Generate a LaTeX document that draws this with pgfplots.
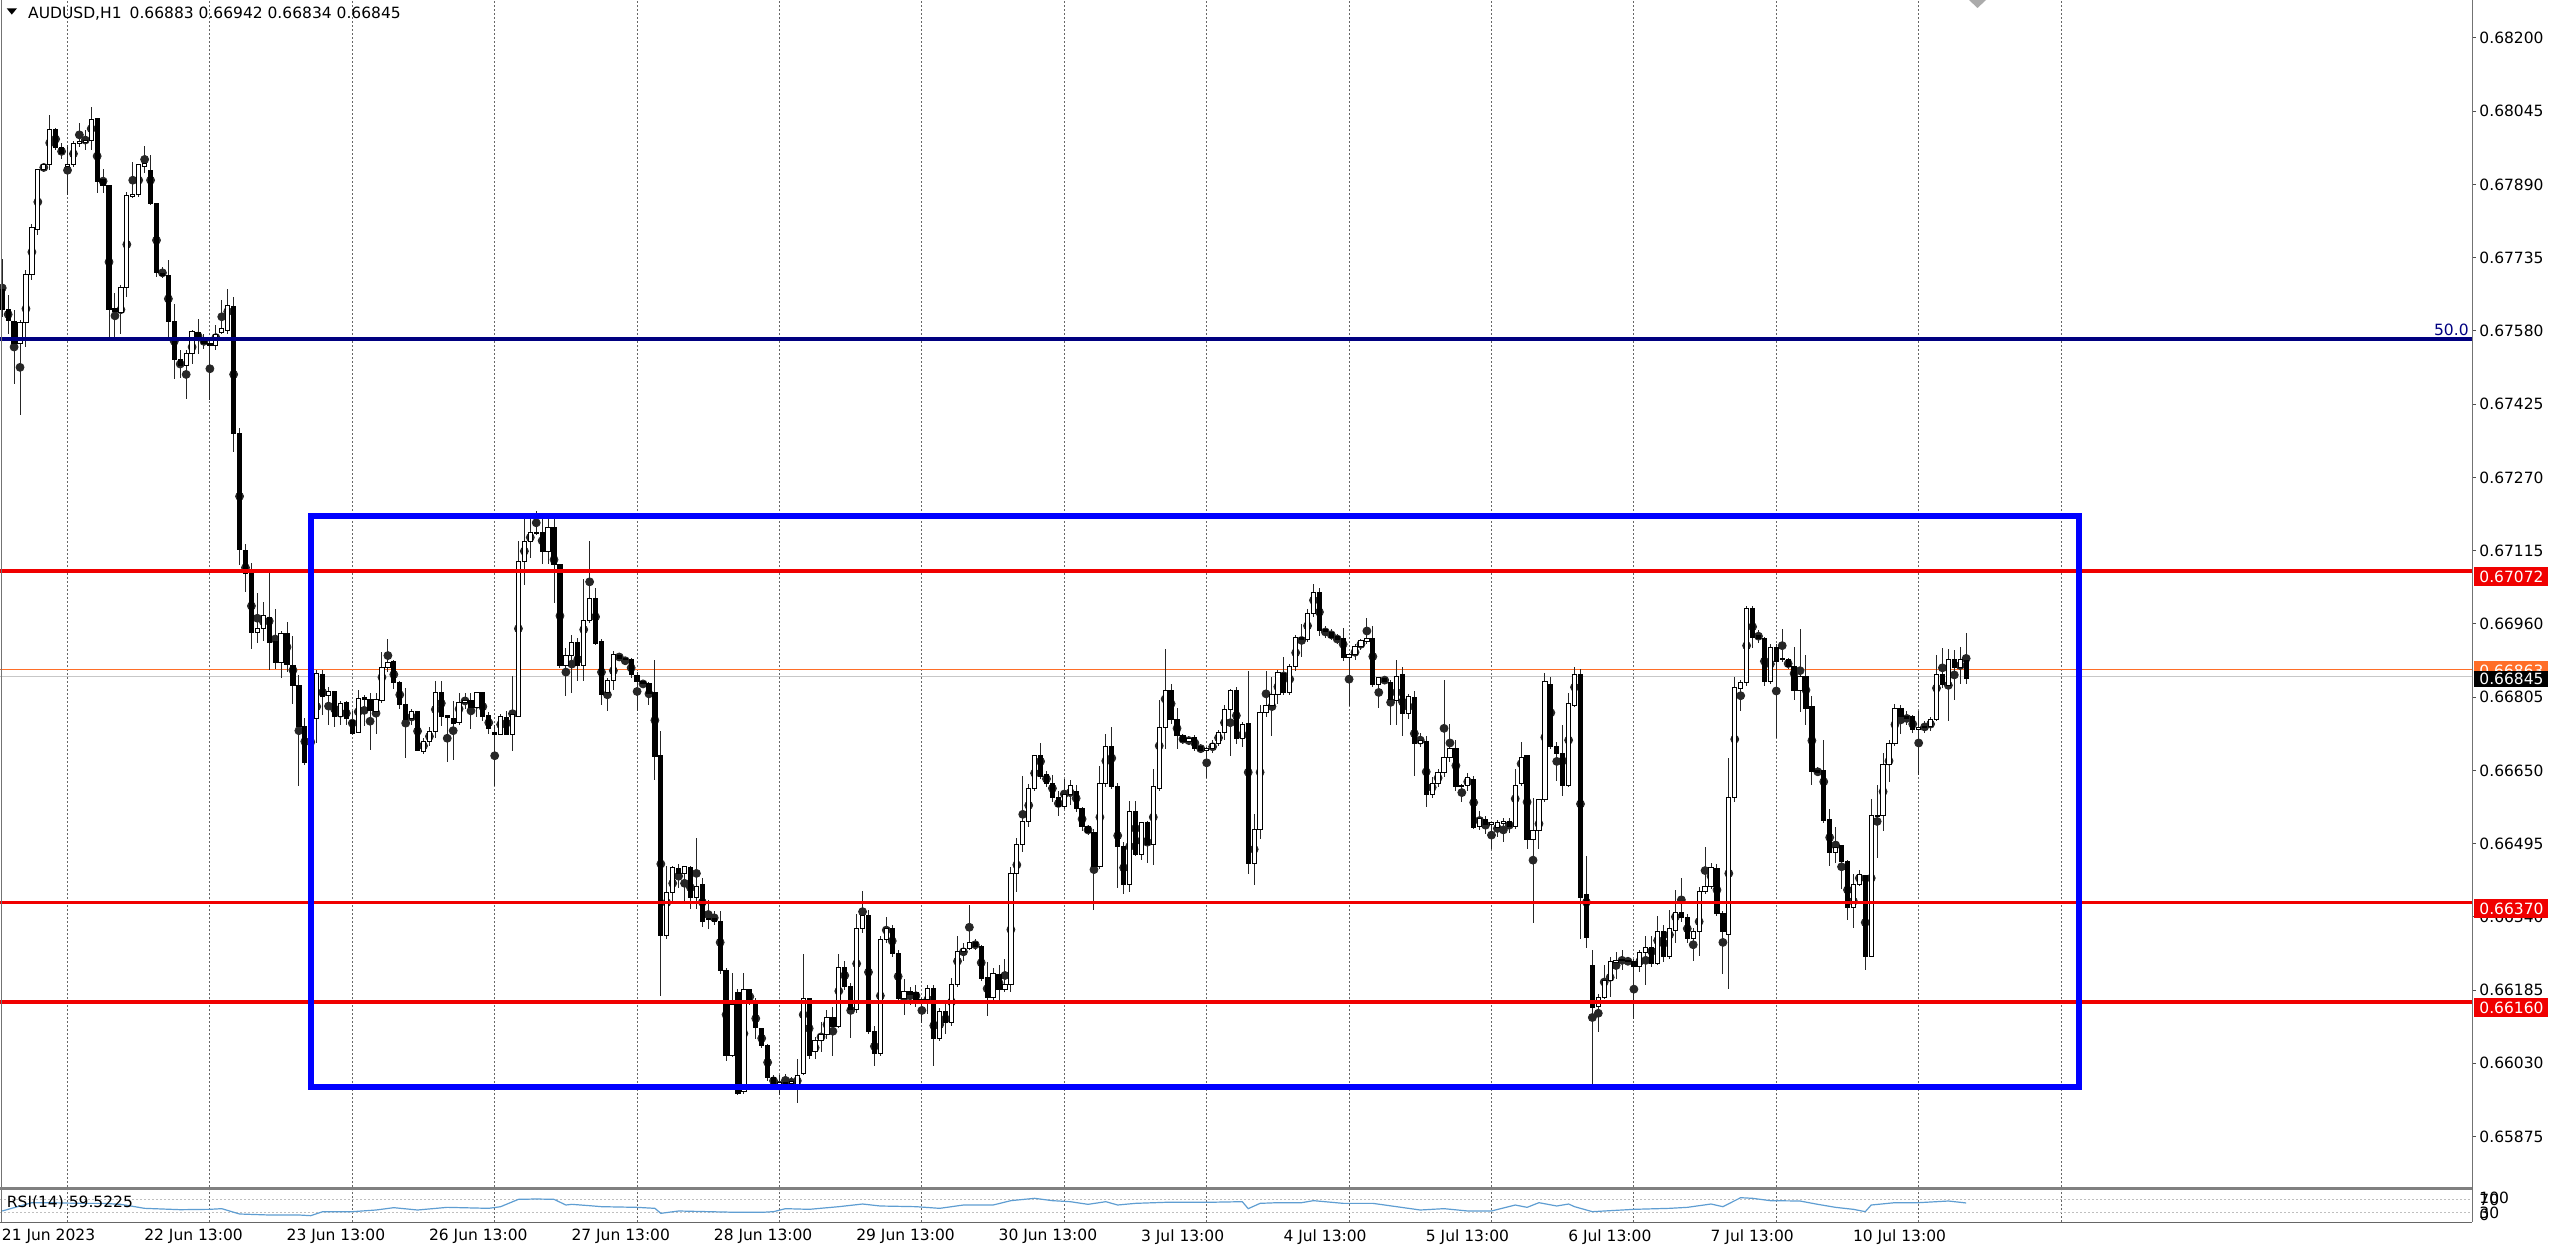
\documentclass[border=0pt]{standalone}
\usepackage{fontspec}
\setmainfont{DejaVu Sans}
\usepackage{pgfplots}
\pgfplotsset{compat=1.18}
\usepackage{pgfplotstable}

\definecolor{boxblue}{RGB}{0,0,255}
\definecolor{lvlred}{RGB}{240,0,0}
\definecolor{fibnavy}{RGB}{0,0,128}
\definecolor{askorange}{RGB}{255,110,40}
\definecolor{rsiblue}{RGB}{95,158,210}
\newcommand\mtfont{\fontsize{7.75pt}{9pt}\selectfont}

% AUDUSD H1 candles: bar number, open, high, low, close
\pgfplotstableread{
n o h l c
0 0.67667 0.67734 0.67611 0.67625
1 0.67625 0.67657 0.67575 0.67602
2 0.67600 0.67625 0.67470 0.67554
3 0.67554 0.67604 0.67403 0.67597
4 0.67597 0.67709 0.67547 0.67699
5 0.67699 0.67808 0.67688 0.67798
6 0.67794 0.67924 0.67783 0.67921
7 0.67921 0.67935 0.67917 0.67932
8 0.67932 0.68037 0.67921 0.68007
9 0.68007 0.68009 0.67963 0.67969
10 0.67969 0.67977 0.67943 0.67955
11 0.67928 0.67974 0.67868 0.67933
12 0.67932 0.67984 0.67928 0.67977
13 0.67976 0.68021 0.67970 0.67981
14 0.67979 0.68006 0.67963 0.67984
15 0.67984 0.68055 0.67963 0.68027
16 0.68029 0.68030 0.67873 0.67896
17 0.67901 0.67924 0.67872 0.67887
18 0.67887 0.67889 0.67565 0.67625
19 0.67628 0.67660 0.67565 0.67621
20 0.67618 0.67678 0.67575 0.67673
21 0.67673 0.67875 0.67653 0.67866
22 0.67865 0.67938 0.67861 0.67869
23 0.67869 0.67935 0.67865 0.67932
24 0.67928 0.67972 0.67914 0.67934
25 0.67920 0.67953 0.67847 0.67849
26 0.67849 0.67850 0.67695 0.67704
27 0.67701 0.67716 0.67692 0.67697
28 0.67698 0.67731 0.67568 0.67600
29 0.67600 0.67639 0.67480 0.67519
30 0.67519 0.67540 0.67480 0.67506
31 0.67506 0.67540 0.67438 0.67532
32 0.67532 0.67583 0.67512 0.67579
33 0.67577 0.67607 0.67533 0.67568
34 0.67567 0.67575 0.67544 0.67554
35 0.67554 0.67568 0.67434 0.67550
36 0.67550 0.67593 0.67540 0.67573
37 0.67577 0.67646 0.67575 0.67585
38 0.67582 0.67669 0.67575 0.67633
39 0.67632 0.67653 0.67324 0.67364
40 0.67364 0.67376 0.67086 0.67118
41 0.67116 0.67131 0.67029 0.67067
42 0.67067 0.67090 0.66909 0.66941
43 0.66941 0.67026 0.66920 0.66950
44 0.66950 0.67007 0.66923 0.66977
45 0.66973 0.67071 0.66863 0.66920
46 0.66923 0.66992 0.66867 0.66878
47 0.66878 0.66944 0.66846 0.66939
48 0.66939 0.66965 0.66859 0.66874
49 0.66872 0.66935 0.66791 0.66829
50 0.66829 0.66852 0.66618 0.66742
51 0.66742 0.66761 0.66663 0.66667
52 0.66667 0.66765 0.66655 0.66759
53 0.66759 0.66863 0.66707 0.66854
54 0.66853 0.66863 0.66768 0.66807
55 0.66808 0.66828 0.66746 0.66817
56 0.66817 0.66820 0.66742 0.66765
57 0.66765 0.66798 0.66746 0.66792
58 0.66794 0.66798 0.66746 0.66759
59 0.66755 0.66776 0.66725 0.66729
60 0.66731 0.66820 0.66729 0.66802
61 0.66804 0.66811 0.66746 0.66800
62 0.66800 0.66815 0.66694 0.66776
63 0.66774 0.66815 0.66729 0.66800
64 0.66798 0.66902 0.66794 0.66867
65 0.66867 0.66928 0.66859 0.66878
66 0.66880 0.66884 0.66824 0.66835
67 0.66835 0.66841 0.66781 0.66789
68 0.66789 0.66824 0.66677 0.66757
69 0.66759 0.66781 0.66746 0.66774
70 0.66774 0.66776 0.66690 0.66693
71 0.66690 0.66720 0.66686 0.66712
72 0.66712 0.66742 0.66703 0.66733
73 0.66732 0.66840 0.66720 0.66815
74 0.66815 0.66841 0.66746 0.66764
75 0.66766 0.66768 0.66668 0.66761
76 0.66759 0.66798 0.66673 0.66749
77 0.66751 0.66815 0.66746 0.66794
78 0.66794 0.66815 0.66781 0.66798
79 0.66798 0.66815 0.66738 0.66783
80 0.66783 0.66817 0.66764 0.66815
81 0.66814 0.66815 0.66755 0.66764
82 0.66766 0.66776 0.66729 0.66738
83 0.66731 0.66746 0.66617 0.66727
84 0.66727 0.66768 0.66725 0.66765
85 0.66762 0.66776 0.66725 0.66727
86 0.66727 0.66850 0.66690 0.66768
87 0.66765 0.67135 0.66764 0.67092
88 0.67092 0.67187 0.67044 0.67135
89 0.67135 0.67187 0.67100 0.67154
90 0.67154 0.67200 0.67148 0.67151
91 0.67154 0.67187 0.67087 0.67113
92 0.67113 0.67187 0.67087 0.67163
93 0.67163 0.67187 0.67005 0.67085
94 0.67085 0.67087 0.66867 0.66872
95 0.66872 0.66910 0.66807 0.66893
96 0.66893 0.66936 0.66815 0.66921
97 0.66921 0.66932 0.66841 0.66872
98 0.66872 0.67057 0.66841 0.66967
99 0.66967 0.67137 0.66962 0.67014
100 0.67014 0.67036 0.66915 0.66919
101 0.66923 0.66928 0.66789 0.66811
102 0.66814 0.66846 0.66776 0.66841
103 0.66840 0.66902 0.66820 0.66895
104 0.66893 0.66897 0.66884 0.66887
105 0.66886 0.66889 0.66876 0.66884
106 0.66884 0.66889 0.66846 0.66852
107 0.66850 0.66859 0.66776 0.66839
108 0.66839 0.66841 0.66828 0.66833
109 0.66833 0.66837 0.66789 0.66813
110 0.66815 0.66884 0.66630 0.66679
111 0.66681 0.66733 0.66172 0.66301
112 0.66301 0.66448 0.66293 0.66392
113 0.66392 0.66448 0.66375 0.66444
114 0.66442 0.66452 0.66401 0.66431
115 0.66431 0.66448 0.66375 0.66446
116 0.66444 0.66448 0.66358 0.66382
117 0.66382 0.66509 0.66358 0.66405
118 0.66408 0.66423 0.66320 0.66331
119 0.66337 0.66377 0.66316 0.66334
120 0.66336 0.66354 0.66324 0.66330
121 0.66331 0.66354 0.66220 0.66226
122 0.66226 0.66232 0.66036 0.66047
123 0.66047 0.66222 0.66044 0.66155
124 0.66180 0.66189 0.65963 0.65967
125 0.65971 0.66222 0.65967 0.66186
126 0.66186 0.66189 0.66155 0.66163
127 0.66164 0.66170 0.66082 0.66105
128 0.66103 0.66105 0.66063 0.66067
129 0.66067 0.66071 0.65994 0.66001
130 0.66001 0.66005 0.65982 0.65986
131 0.65986 0.66005 0.65963 0.65990
132 0.65990 0.66009 0.65982 0.65986
133 0.65987 0.66001 0.65980 0.65992
134 0.65982 0.66040 0.65948 0.66005
135 0.66009 0.66262 0.66005 0.66167
136 0.66167 0.66170 0.66040 0.66047
137 0.66055 0.66086 0.66040 0.66078
138 0.66078 0.66117 0.66055 0.66090
139 0.66090 0.66144 0.66082 0.66128
140 0.66128 0.66151 0.66047 0.66109
141 0.66109 0.66262 0.66105 0.66232
142 0.66232 0.66247 0.66186 0.66193
143 0.66193 0.66201 0.66086 0.66144
144 0.66144 0.66347 0.66136 0.66316
145 0.66316 0.66397 0.66308 0.66343
146 0.66343 0.66354 0.66093 0.66097
147 0.66097 0.66109 0.66024 0.66051
148 0.66051 0.66301 0.66047 0.66293
149 0.66293 0.66339 0.66285 0.66316
150 0.66316 0.66324 0.66255 0.66262
151 0.66262 0.66270 0.66159 0.66167
152 0.66167 0.66209 0.66132 0.66182
153 0.66182 0.66193 0.66155 0.66176
154 0.66179 0.66197 0.66151 0.66159
155 0.66159 0.66170 0.66117 0.66165
156 0.66165 0.66197 0.66135 0.66189
157 0.66189 0.66197 0.66024 0.66082
158 0.66082 0.66147 0.66078 0.66140
159 0.66140 0.66155 0.66093 0.66117
160 0.66117 0.66212 0.66110 0.66197
161 0.66197 0.66301 0.66193 0.66266
162 0.66266 0.66285 0.66247 0.66274
163 0.66274 0.66366 0.66270 0.66285
164 0.66285 0.66293 0.66270 0.66278
165 0.66278 0.66281 0.66205 0.66209
166 0.66212 0.66247 0.66132 0.66170
167 0.66170 0.66232 0.66163 0.66220
168 0.66218 0.66239 0.66163 0.66186
169 0.66186 0.66251 0.66182 0.66197
170 0.66197 0.66447 0.66182 0.66431
171 0.66431 0.66508 0.66393 0.66493
172 0.66493 0.66638 0.66477 0.66542
173 0.66542 0.66623 0.66531 0.66611
174 0.66611 0.66684 0.66607 0.66681
175 0.66681 0.66707 0.66631 0.66638
176 0.66642 0.66650 0.66615 0.66623
177 0.66623 0.66642 0.66584 0.66592
178 0.66592 0.66607 0.66554 0.66573
179 0.66573 0.66631 0.66569 0.66600
180 0.66600 0.66631 0.66577 0.66619
181 0.66605 0.66620 0.66562 0.66569
182 0.66569 0.66573 0.66523 0.66531
183 0.66531 0.66535 0.66515 0.66519
184 0.66519 0.66527 0.66355 0.66447
185 0.66447 0.66661 0.66443 0.66623
186 0.66623 0.66727 0.66615 0.66700
187 0.66700 0.66742 0.66612 0.66615
188 0.66615 0.66623 0.66400 0.66489
189 0.66489 0.66500 0.66389 0.66408
190 0.66408 0.66585 0.66393 0.66562
191 0.66562 0.66585 0.66469 0.66473
192 0.66473 0.66542 0.66462 0.66539
193 0.66539 0.66542 0.66454 0.66493
194 0.66493 0.66654 0.66450 0.66615
195 0.66612 0.66800 0.66607 0.66740
196 0.66740 0.66907 0.66696 0.66819
197 0.66819 0.66834 0.66750 0.66757
198 0.66757 0.66784 0.66696 0.66723
199 0.66723 0.66727 0.66707 0.66711
200 0.66711 0.66723 0.66703 0.66717
201 0.66719 0.66727 0.66692 0.66696
202 0.66700 0.66707 0.66688 0.66692
203 0.66692 0.66700 0.66634 0.66697
204 0.66697 0.66715 0.66688 0.66707
205 0.66707 0.66738 0.66703 0.66730
206 0.66730 0.66788 0.66715 0.66779
207 0.66779 0.66823 0.66681 0.66819
208 0.66819 0.66826 0.66707 0.66717
209 0.66717 0.66753 0.66700 0.66747
210 0.66750 0.66861 0.66431 0.66454
211 0.66454 0.66558 0.66408 0.66525
212 0.66525 0.66788 0.66504 0.66773
213 0.66773 0.66861 0.66765 0.66788
214 0.66788 0.66849 0.66723 0.66811
215 0.66811 0.66865 0.66792 0.66857
216 0.66855 0.66891 0.66811 0.66815
217 0.66815 0.66876 0.66811 0.66870
218 0.66870 0.66938 0.66861 0.66932
219 0.66932 0.66961 0.66892 0.66926
220 0.66926 0.66991 0.66922 0.66982
221 0.66982 0.67047 0.66976 0.67026
222 0.67026 0.67037 0.66934 0.66947
223 0.66949 0.66957 0.66930 0.66944
224 0.66942 0.66949 0.66926 0.66932
225 0.66934 0.66941 0.66918 0.66928
226 0.66930 0.66953 0.66884 0.66889
227 0.66889 0.66900 0.66788 0.66895
228 0.66895 0.66918 0.66884 0.66913
229 0.66913 0.66930 0.66907 0.66924
230 0.66922 0.66974 0.66918 0.66930
231 0.66930 0.66957 0.66826 0.66832
232 0.66832 0.66849 0.66784 0.66846
233 0.66844 0.66849 0.66834 0.66839
234 0.66836 0.66842 0.66746 0.66800
235 0.66798 0.66885 0.66746 0.66849
236 0.66853 0.66869 0.66723 0.66770
237 0.66770 0.66812 0.66760 0.66807
238 0.66805 0.66819 0.66638 0.66707
239 0.66707 0.66730 0.66700 0.66714
240 0.66711 0.66723 0.66573 0.66600
241 0.66600 0.66638 0.66592 0.66623
242 0.66623 0.66654 0.66615 0.66646
243 0.66646 0.66842 0.66638 0.66677
244 0.66677 0.66750 0.66669 0.66696
245 0.66696 0.66715 0.66607 0.66615
246 0.66619 0.66623 0.66585 0.66615
247 0.66617 0.66646 0.66607 0.66634
248 0.66631 0.66638 0.66527 0.66529
249 0.66531 0.66565 0.66523 0.66548
250 0.66546 0.66554 0.66515 0.66535
251 0.66535 0.66542 0.66485 0.66539
252 0.66530 0.66546 0.66508 0.66540
253 0.66538 0.66550 0.66500 0.66542
254 0.66542 0.66550 0.66519 0.66531
255 0.66531 0.66654 0.66527 0.66619
256 0.66623 0.66711 0.66619 0.66677
257 0.66681 0.66684 0.66485 0.66504
258 0.66504 0.66592 0.66328 0.66523
259 0.66523 0.66592 0.66485 0.66588
260 0.66588 0.66857 0.66585 0.66838
261 0.66832 0.66849 0.66696 0.66700
262 0.66700 0.66711 0.66627 0.66685
263 0.66686 0.66746 0.66596 0.66619
264 0.66619 0.66815 0.66615 0.66792
265 0.66788 0.66869 0.66784 0.66853
266 0.66853 0.66865 0.66293 0.66381
267 0.66387 0.66469 0.66274 0.66297
268 0.66238 0.66270 0.65985 0.66149
269 0.66151 0.66178 0.66097 0.66170
270 0.66170 0.66239 0.66167 0.66205
271 0.66205 0.66255 0.66170 0.66245
272 0.66243 0.66266 0.66209 0.66248
273 0.66247 0.66270 0.66228 0.66249
274 0.66248 0.66255 0.66239 0.66246
275 0.66246 0.66250 0.66124 0.66235
276 0.66235 0.66270 0.66224 0.66264
277 0.66264 0.66301 0.66197 0.66276
278 0.66276 0.66301 0.66235 0.66241
279 0.66241 0.66343 0.66239 0.66310
280 0.66310 0.66324 0.66247 0.66256
281 0.66256 0.66354 0.66251 0.66316
282 0.66312 0.66397 0.66285 0.66350
283 0.66350 0.66423 0.66331 0.66339
284 0.66339 0.66347 0.66285 0.66295
285 0.66295 0.66316 0.66247 0.66310
286 0.66310 0.66404 0.66258 0.66393
287 0.66393 0.66489 0.66389 0.66404
288 0.66404 0.66454 0.66400 0.66445
289 0.66443 0.66454 0.66343 0.66347
290 0.66347 0.66354 0.66220 0.66308
291 0.66302 0.66678 0.66189 0.66592
292 0.66592 0.66849 0.66584 0.66826
293 0.66824 0.66842 0.66776 0.66836
294 0.66836 0.66999 0.66830 0.66993
295 0.66993 0.66999 0.66911 0.66932
296 0.66936 0.66949 0.66922 0.66930
297 0.66930 0.66934 0.66830 0.66839
298 0.66839 0.66918 0.66834 0.66911
299 0.66911 0.66918 0.66719 0.66880
300 0.66887 0.66949 0.66880 0.66884
301 0.66884 0.66888 0.66865 0.66870
302 0.66870 0.66911 0.66800 0.66819
303 0.66819 0.66949 0.66773 0.66849
304 0.66849 0.66895 0.66746 0.66780
305 0.66786 0.66807 0.66619 0.66648
306 0.66650 0.66657 0.66638 0.66646
307 0.66650 0.66715 0.66539 0.66545
308 0.66546 0.66569 0.66450 0.66477
309 0.66476 0.66531 0.66454 0.66486
310 0.66490 0.66493 0.66400 0.66458
311 0.66458 0.66462 0.66335 0.66360
312 0.66360 0.66431 0.66316 0.66408
313 0.66408 0.66439 0.66404 0.66429
314 0.66427 0.66431 0.66228 0.66256
315 0.66256 0.66588 0.66255 0.66555
316 0.66552 0.66619 0.66466 0.66555
317 0.66554 0.66688 0.66523 0.66663
318 0.66663 0.66715 0.66627 0.66706
319 0.66707 0.66792 0.66703 0.66780
320 0.66780 0.66788 0.66727 0.66763
321 0.66765 0.66776 0.66746 0.66760
322 0.66763 0.66769 0.66730 0.66737
323 0.66737 0.66776 0.66642 0.66740
324 0.66740 0.66754 0.66730 0.66742
325 0.66742 0.66765 0.66734 0.66757
326 0.66757 0.66895 0.66754 0.66853
327 0.66852 0.66911 0.66826 0.66832
328 0.66830 0.66907 0.66754 0.66884
329 0.66884 0.66905 0.66800 0.66867
330 0.66867 0.66911 0.66834 0.66884
331 0.66883 0.66942 0.66834 0.66845
}\candles

\pgfplotsset{
  pane/.style={at={(0pt,0pt)}, anchor=north west, scale only axis,
    width=1236pt, height=593.5pt, xmin=-0.377, xmax=416.27},
}

\begin{document}
\begin{tikzpicture}
\useasboundingbox (0,0) rectangle (1280pt,-625.5pt);
\fill[white] (0,0) rectangle (1280pt,-625.5pt);

% price pane: grid, scale, bid/ask lines, wicks
\begin{axis}[pane, ymin=0.657683, ymax=0.682804,
  axis line style={draw=none},
  xtick={11,35,...,347}, xticklabels={}, xtick style={draw=none},
  xmajorgrids, x grid style={black!60, line width=0.5pt, dash pattern=on 1pt off 1pt},
  ytick={0.65875,0.66030,0.66185,0.66340,0.66495,0.66650,0.66805,0.66960,0.67115,0.67270,0.67425,0.67580,0.67735,0.67890,0.68045,0.68200},
  yticklabels={0.65875,0.66030,0.66185,0.66340,0.66495,0.66650,0.66805,0.66960,0.67115,0.67270,0.67425,0.67580,0.67735,0.67890,0.68045,0.68200},
  ytick pos=right, yticklabel pos=right, tick align=outside, major tick length=2pt,
  ytick style={black!70, line width=0.5pt},
  yticklabel style={font=\mtfont, anchor=west, inner sep=0pt, xshift=1.5pt},
]
\addplot[askorange, line width=0.5pt] coordinates {(-1,0.66863) (420,0.66863)};
\addplot[black!22, line width=0.5pt] coordinates {(-1,0.66848) (420,0.66848)};
\addplot[black!85, only marks, mark=none,
  error bars/.cd, y dir=both, y explicit, error mark=none,
  error bar style={black!85, solid, line width=0.5pt}]
  table[x=n, y expr={(\thisrow{h}+\thisrow{l})/2}, y error expr={(\thisrow{h}-\thisrow{l})/2}] {\candles};
\end{axis}

% candle bodies, stacked on an invisible base (values shifted by 0.65)
\begin{axis}[pane, ymin=0.007683, ymax=0.032804, hide axis,
  ybar stacked, bar width=0.72]
\addplot[draw=none, fill=none] table[x=n, y expr={min(\thisrow{o},\thisrow{c})-0.65}] {\candles};
\addplot[draw=black, fill=white, line width=0.5pt] table[x=n, y expr={max(\thisrow{c}-\thisrow{o},0)}] {\candles};
\addplot[draw=black, fill=black, line width=0.5pt] table[x=n, y expr={max(\thisrow{o}-\thisrow{c},0)}] {\candles};
\end{axis}

% drawn objects: levels and the range box
\begin{axis}[pane, ymin=0.657683, ymax=0.682804, hide axis]
\addplot[fibnavy, line width=1.7pt] coordinates {(-1,0.67563) (420,0.67563)};
\addplot[lvlred, line width=1.7pt] coordinates {(-1,0.67072) (420,0.67072)};
\addplot[lvlred, line width=1.7pt] coordinates {(-1,0.66370) (420,0.66370)};
\addplot[lvlred, line width=1.7pt] coordinates {(-1,0.66160) (420,0.66160)};
\addplot[boxblue, line width=2.8pt, line cap=rect, line join=miter]
  coordinates {(52.04,0.67189) (350.04,0.67189) (350.04,0.65980) (52.04,0.65980) (52.04,0.67189)};
\end{axis}

% RSI pane
\begin{axis}[at={(0pt,-595pt)}, anchor=north west, scale only axis,
  width=1236pt, height=16pt, xmin=-0.377, xmax=416.27, ymin=0, ymax=100,
  axis line style={draw=none},
  xtick={11,35,...,347}, xticklabels={}, xtick style={draw=none},
  xmajorgrids, x grid style={black!60, line width=0.5pt, dash pattern=on 1pt off 1pt},
  ytick={30,70}, yticklabels={}, ytick style={draw=none},
  ymajorgrids, y grid style={black!25, line width=0.5pt, dash pattern=on 1pt off 1pt},
]
\addplot[rsiblue, line width=0.6pt] coordinates {
(0,34.4) (5,60.4) (8,60.4) (13,58.3) (17,58.3) (20,55.2) (24,42.7) (30,38.5)
(35,39.6) (37,41.7) (40,25.0) (45,21.9) (50,21.9) (52,19.8) (54,32.3) (59,32.3)
(63,37.5) (66,44.8) (70,37.5) (75,45.8) (82,42.7) (84,47.9) (87,70.8) (90,71.9)
(93,70.8) (95,53.1) (96,55.2) (99,51.0) (101,47.9) (107,45.8) (110,42.7) (111,27.1)
(114,34.4) (119,32.3) (124,30.2) (128,30.2) (130,32.3) (132,41.7) (136,39.6) (141,47.9)
(145,56.2) (148,50.0) (154,47.9) (158,42.7) (162,53.1) (167,53.1) (170,66.7) (174,74.0)
(177,66.7) (180,63.5) (183,55.2) (186,63.5) (188,53.1) (191,58.3) (196,61.5) (203,61.5)
(209,63.5) (210,41.7) (212,58.3) (215,60.4) (219,60.4) (221,66.7) (226,58.3) (231,58.3)
(233,53.1) (239,37.5) (243,41.7) (247,34.4) (251,34.4) (255,53.1) (257,45.8) (259,60.4)
(262,50.0) (264,56.2) (265,47.9) (268,32.3) (275,39.6) (281,42.7) (284,45.8) (288,56.2)
(290,47.9) (293,76.0) (295,74.0) (298,66.7) (303,65.6) (306,55.2) (309,45.8) (312,39.6)
(314,32.3) (315,53.1) (319,60.4) (323,60.4) (326,63.5) (328,65.6) (331,59.5)};
\end{axis}

% frame: borders and pane splitter
\draw[black!55, line width=0.5pt] (0.5pt,0) -- (0.5pt,-611pt);
\draw[black!55, line width=0.5pt] (1236pt,0) -- (1236pt,-611pt);
\fill[black!50] (0,-593.5pt) rectangle (1236pt,-595pt);
\draw[black!60, line width=0.5pt] (0,-611pt) -- (1236pt,-611pt);

% header and RSI caption
\fill[black] (3.35pt,-4.15pt) -- (8.5pt,-4.15pt) -- (5.9pt,-7.3pt) -- cycle;
\node[anchor=base west, inner sep=0pt, font=\mtfont] at (13.9pt,-9.15pt)
  {AUDUSD,H1\hspace{4pt}0.66883 0.66942 0.66834 0.66845};
\node[anchor=west, inner sep=0pt, font=\mtfont] at (3.25pt,-601.5pt) {RSI(14) 59.5225};

% shift marker at the top
\fill[black!33] (984.5pt,0pt) -- (988.75pt,-4pt) -- (993pt,0pt) -- (988.75pt,4pt) -- cycle;

% fib level caption
\node[anchor=base east, inner sep=0pt, font=\mtfont, text=fibnavy] at (1234.5pt,-168pt) {50.0};

% price tags on the scale
\fill[lvlred] (1237pt,-283.5pt) rectangle (1274pt,-293pt);
\node[anchor=west, inner sep=0pt, font=\mtfont, text=white] at (1239.5pt,-288.25pt) {0.67072};
\fill[lvlred] (1237pt,-449.5pt) rectangle (1274pt,-459pt);
\node[anchor=west, inner sep=0pt, font=\mtfont, text=white] at (1239.5pt,-454.25pt) {0.66370};
\fill[lvlred] (1237pt,-499pt) rectangle (1274pt,-508.5pt);
\node[anchor=west, inner sep=0pt, font=\mtfont, text=white] at (1239.5pt,-503.75pt) {0.66160};
\fill[askorange] (1237pt,-330.5pt) rectangle (1274pt,-340pt);
\node[anchor=west, inner sep=0pt, font=\mtfont, text=white] at (1239.5pt,-335.25pt) {0.66863};
\fill[black] (1237pt,-335.25pt) rectangle (1274pt,-343.25pt);
\node[anchor=west, inner sep=0pt, font=\mtfont, text=white] at (1239.5pt,-339.25pt) {0.66845};

% RSI scale labels
\node[anchor=west, inner sep=0pt, font=\mtfont] at (1239.5pt,-599pt) {100};
\node[anchor=west, inner sep=0pt, font=\mtfont] at (1239.5pt,-599.8pt) {70};
\node[anchor=west, inner sep=0pt, font=\mtfont] at (1239.5pt,-606.2pt) {30};
\node[anchor=west, inner sep=0pt, font=\mtfont] at (1239.5pt,-607.5pt) {0};

% time labels
\foreach \k/\lab in {0/21 Jun 2023, 1/22 Jun 13:00, 2/23 Jun 13:00, 3/26 Jun 13:00,
  4/27 Jun 13:00, 5/28 Jun 13:00, 6/29 Jun 13:00, 7/30 Jun 13:00, 8/3 Jul 13:00,
  9/4 Jul 13:00, 10/5 Jul 13:00, 11/6 Jul 13:00, 12/7 Jul 13:00, 13/10 Jul 13:00}
  \node[anchor=west, inner sep=0pt, font=\mtfont] at (0.75pt+71.2pt*\k,-618.35pt) {\lab};
\end{tikzpicture}
\end{document}
